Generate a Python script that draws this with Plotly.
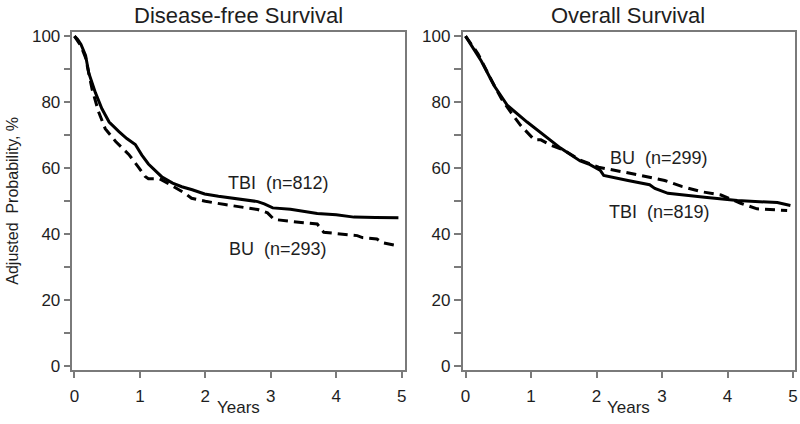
import plotly.graph_objects as go

# ---- data ----
dfs_tbi_t = [0, 0.05, 0.1, 0.17, 0.22, 0.32, 0.42, 0.53, 0.68, 0.8, 0.93, 1.03, 1.13, 1.34, 1.5, 1.64,
             1.8, 1.99, 2.2, 2.5, 2.8, 2.9, 3.03, 3.3, 3.71, 4.0, 4.27, 4.6, 4.95]
dfs_tbi_s = [100, 99, 97.5, 94.2, 88.8, 82.9, 78, 74, 71.1, 69, 67.2, 64, 61.3, 57.3, 55.5, 54.4,
             53.5, 52.2, 51.5, 50.8, 49.9, 49.2, 48, 47.6, 46.3, 45.9, 45.2, 45.1, 45]

dfs_bu_t = [0, 0.1, 0.17, 0.27, 0.37, 0.47, 0.63, 0.83, 0.98, 1.08, 1.13, 1.3, 1.44, 1.69, 1.79, 2.0,
            2.3, 2.8, 2.95, 3.05, 3.5, 3.71, 3.81, 4.32, 4.4, 4.62, 4.7, 4.95]
dfs_bu_s = [100, 97, 93.5, 83.9, 77, 72, 68.1, 64.2, 60.3, 57.5, 56.8, 56.8, 55.3, 52.4, 50.9, 50,
            49, 47.5, 46.5, 44.5, 43.5, 43.1, 40.6, 39.6, 39.0, 38.6, 37.5, 36.5]

os_tbi_t = [0, 0.24, 0.44, 0.64, 0.94, 1.2, 1.45, 1.75, 1.88, 2.06, 2.11, 2.48, 2.81, 2.89, 3.09,
            3.65, 4.15, 4.76, 4.96]
os_tbi_s = [100, 92.5, 84.9, 79, 74, 70.1, 66.1, 62.2, 61.3, 59.3, 57.8, 56.3, 55, 53.9, 52.4,
            51.2, 50.2, 49.6, 48.7]

os_bu_t = [0, 0.19, 0.4, 0.55, 0.69, 0.84, 1.05, 1.15, 1.3, 1.5, 1.75, 2.0, 2.03, 2.43, 2.8, 3.04,
           3.3, 3.6, 3.9, 4.2, 4.45, 4.91]
os_bu_s = [100, 94.7, 86.5, 81, 77, 73, 68.6, 68.6, 67, 65.5, 62.5, 60.5, 60.3, 58.8, 57.2, 56.3,
           54.5, 52.9, 51.9, 49.4, 47.7, 47.2]

panel_titles = ["Disease-free Survival", "Overall Survival"]
x_tickvals = [0, 1, 2, 3, 4, 5]
y_tickvals = [0, 20, 40, 60, 80, 100]

W, H = 800, 424
FONT = "Liberation Sans, Arial, sans-serif"
TXT = "#1e1e1e"
AX = "#7a7a7a"

fig = go.Figure()
solid = dict(color="black", width=3)
dashed = dict(color="black", width=3, dash="10px,6px")

fig.add_trace(go.Scatter(x=dfs_tbi_t, y=dfs_tbi_s, mode="lines", line=solid, xaxis="x", yaxis="y"))
fig.add_trace(go.Scatter(x=dfs_bu_t, y=dfs_bu_s, mode="lines", line=dashed, xaxis="x", yaxis="y"))
fig.add_trace(go.Scatter(x=os_bu_t, y=os_bu_s, mode="lines", line=dashed, xaxis="x2", yaxis="y2"))
fig.add_trace(go.Scatter(x=os_tbi_t, y=os_tbi_s, mode="lines", line=solid, xaxis="x2", yaxis="y2"))

def xax(dom, rng, anchor):
    return dict(domain=dom, range=rng, anchor=anchor, showline=True, linecolor=AX, linewidth=1.5,
                mirror=True, ticks="outside", ticklen=6, tickcolor=AX, tickwidth=1.5,
                tickvals=x_tickvals, showgrid=False, zeroline=False, ticklabeloverflow="allow",
                ticklabelstandoff=4,
                tickfont=dict(family=FONT, size=17, color=TXT))

def yax(dom, rng, anchor):
    return dict(domain=dom, range=rng, anchor=anchor, showline=True, linecolor=AX, linewidth=1.5,
                mirror=True, ticks="outside", ticklen=7, tickcolor=AX, tickwidth=1.5,
                tickvals=y_tickvals, showgrid=False, zeroline=False, ticklabeloverflow="allow",
                minor=dict(dtick=10, tick0=0, ticks="outside", ticklen=7, tickcolor=AX, tickwidth=1.5, showgrid=False),
                tickfont=dict(family=FONT, size=17, color=TXT))

ydom = [1 - 375 / H, 1 - 28 / H]
yr = [-1.18, 101.18]
fig.update_layout(
    width=W, height=H, margin=dict(l=0, r=0, t=0, b=0),
    paper_bgcolor="white", plot_bgcolor="white", showlegend=False,
    xaxis=xax([70 / W, 405 / W], [-0.03, 5.05], "y"),
    yaxis=yax(ydom, yr, "x"),
    xaxis2=xax([463 / W, 798 / W], [-0.046, 5.03], "y2"),
    yaxis2=yax(ydom, yr, "x2"),
)

def ann(text, x, y, size=17, angle=0, xanchor="center"):
    return dict(text=text, x=x / W, y=1 - y / H, xref="paper", yref="paper", showarrow=False,
                xanchor=xanchor, yanchor="middle", textangle=angle,
                font=dict(family=FONT, size=size, color=TXT))

fig.update_layout(annotations=[
    ann(panel_titles[0], 237.5, 11, size=22),
    ann(panel_titles[1], 630, 11, size=22),
    ann("Years", 237.5, 413),
    ann("Years", 630, 413),
    ann("Adjusted  Probability, %", 10, 201, size=16, angle=-90),
    ann("TBI  (n=812)", 278, 183, size=18),
    ann("BU  (n=293)", 277, 250, size=18),
    ann("BU  (n=299)", 661, 157, size=18),
    ann("TBI  (n=819)", 661, 212, size=18),
])

fig.write_html("out.html", config={"displayModeBar": False},
               post_script="document.body.style.margin='0';document.body.style.overflow='hidden';")
